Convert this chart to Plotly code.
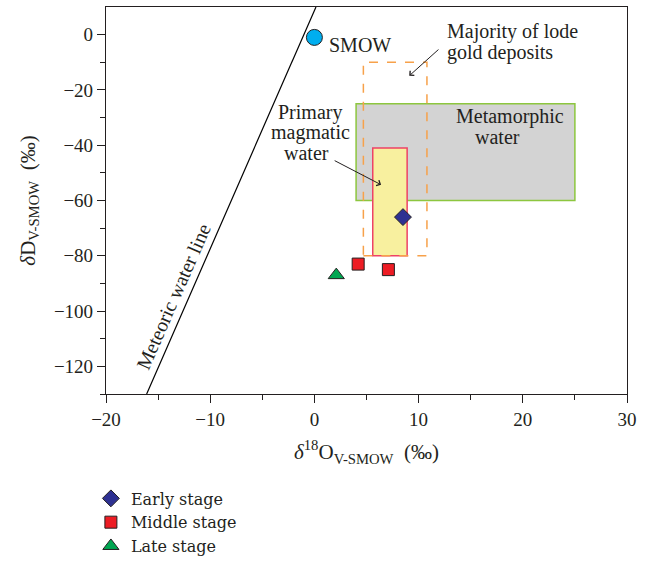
import plotly.graph_objects as go

# Data
early_x = [8.5]
early_y = [-66]
middle_x = [4.2, 7.1]
middle_y = [-83, -85]
late_x = [2.1]
late_y = [-87]
smow_x = [0]
smow_y = [-1]
mwl_x = [-16.1, 0.15]
mwl_y = [-130, 10]

metamorphic_box = dict(x0=4, x1=25, y0=-60, y1=-25)
magmatic_box = dict(x0=5.6, x1=8.9, y0=-80, y1=-41)
lode_box = dict(x0=4.7, x1=10.8, y0=-80, y1=-10)

x_ticks = [-20, -10, 0, 10, 20, 30]
y_ticks = [0, -20, -40, -60, -80, -100, -120]

FONT = "Liberation Serif"
TXT = "#231f20"

fig = go.Figure()

# Shapes (boxes)
fig.add_shape(type="rect", **metamorphic_box, fillcolor="#d3d3d3",
              line=dict(color="#8dc63f", width=1.5), layer="below")
fig.add_shape(type="rect", **magmatic_box, fillcolor="#f8f09f",
              line=dict(color="#ee4266", width=1.5), layer="below")
fig.add_shape(type="rect", **lode_box, fillcolor="rgba(0,0,0,0)",
              line=dict(color="#f7a14a", width=1.5, dash="dash"), layer="below")

# Meteoric water line
fig.add_trace(go.Scatter(x=mwl_x, y=mwl_y, mode="lines",
                         line=dict(color="black", width=1.2),
                         showlegend=False, hoverinfo="skip"))

# SMOW
fig.add_trace(go.Scatter(x=smow_x, y=smow_y, mode="markers",
                         marker=dict(symbol="circle", size=16, color="#00aeef",
                                     line=dict(color="#231f20", width=1)),
                         showlegend=False))

fig.add_trace(go.Scatter(x=early_x, y=early_y, mode="markers", name="Early stage",
                         marker=dict(symbol="diamond", size=13, color="#2e3192",
                                     line=dict(color="#231f20", width=1))))
fig.add_trace(go.Scatter(x=middle_x, y=middle_y, mode="markers", name="Middle stage",
                         marker=dict(symbol="square", size=12, color="#ed1c24",
                                     line=dict(color="#231f20", width=1))))
fig.add_trace(go.Scatter(x=late_x, y=late_y, mode="markers", name="Late stage",
                         marker=dict(symbol="triangle-up", size=14, color="#00a651",
                                     line=dict(color="#231f20", width=1))))

ann_font = dict(family=FONT, size=20, color=TXT)


def label(x, y, text, **kw):
    fig.add_annotation(x=x, y=y, text=text, showarrow=False, font=ann_font, **kw)


label(1.2, -3.7, "SMOW", xanchor="left")
label(12.5, 1.0, "Majority of lode", xanchor="left")
label(12.5, -6.6, "gold deposits", xanchor="left")
fig.add_annotation(x=9.1, y=-14.9, ax=12.05, ay=-4.9, axref="x", ayref="y",
                   text="", showarrow=True, arrowhead=4, arrowsize=1.2,
                   arrowwidth=1, arrowcolor=TXT)
label(-0.47, -28.3, "Primary")
label(-0.42, -35.5, "magmatic")
label(-0.8, -42.7, "water")
fig.add_annotation(x=6.4, y=-54.3, ax=1.8, ay=-45.3, axref="x", ayref="y",
                   text="", showarrow=True, arrowhead=4, arrowsize=1.2,
                   arrowwidth=1, arrowcolor=TXT)
label(18.8, -29.6, "Metamorphic")
label(17.6, -37.0, "water")
label(-13.5, -94.6, "Meteoric water line", textangle=-66.4)

axis_common = dict(showgrid=False, zeroline=False, showline=True, linecolor="#231f20",
                   linewidth=1.2, mirror=True, ticks="outside", ticklen=8,
                   tickcolor="#231f20", tickwidth=1.2,
                   tickfont=dict(family=FONT, size=19, color=TXT),
                   minor=dict(ticks="outside", ticklen=5, tickcolor="#231f20", tickwidth=1.2))

fig.update_xaxes(range=[-20, 30], tickvals=x_ticks,
                 ticktext=[("−" + str(-v)) if v < 0 else str(v) for v in x_ticks],
                 title=dict(text="<i>δ</i><sup>18</sup>O<sub>V-SMOW</sub>  (‰)",
                            font=dict(family=FONT, size=21, color=TXT), standoff=15),
                 **axis_common)
fig.update_xaxes(minor=dict(tickvals=[-15, -5, 5, 15, 25]))
fig.update_yaxes(range=[-130, 10], tickvals=y_ticks,
                 ticktext=[("−" + str(-v)) if v < 0 else str(v) for v in y_ticks],
                 title=dict(text="<i>δ</i>D<sub>V-SMOW</sub>  (‰)",
                            font=dict(family=FONT, size=21, color=TXT), standoff=12),
                 **axis_common)
fig.update_yaxes(minor=dict(tickvals=[-10, -30, -50, -70, -90, -110, -130]))

fig.update_layout(
    width=649, height=563,
    margin=dict(l=106, r=22, t=7, b=169, autoexpand=False),
    plot_bgcolor="white", paper_bgcolor="white",
    font=dict(family=FONT, color=TXT),
    legend=dict(x=-0.029, y=-0.226, xanchor="left", yanchor="top",
                font=dict(family="DejaVu Serif", size=16, color=TXT),
                bgcolor="rgba(0,0,0,0)", tracegroupgap=0),
)

fig.write_html("out.html")
